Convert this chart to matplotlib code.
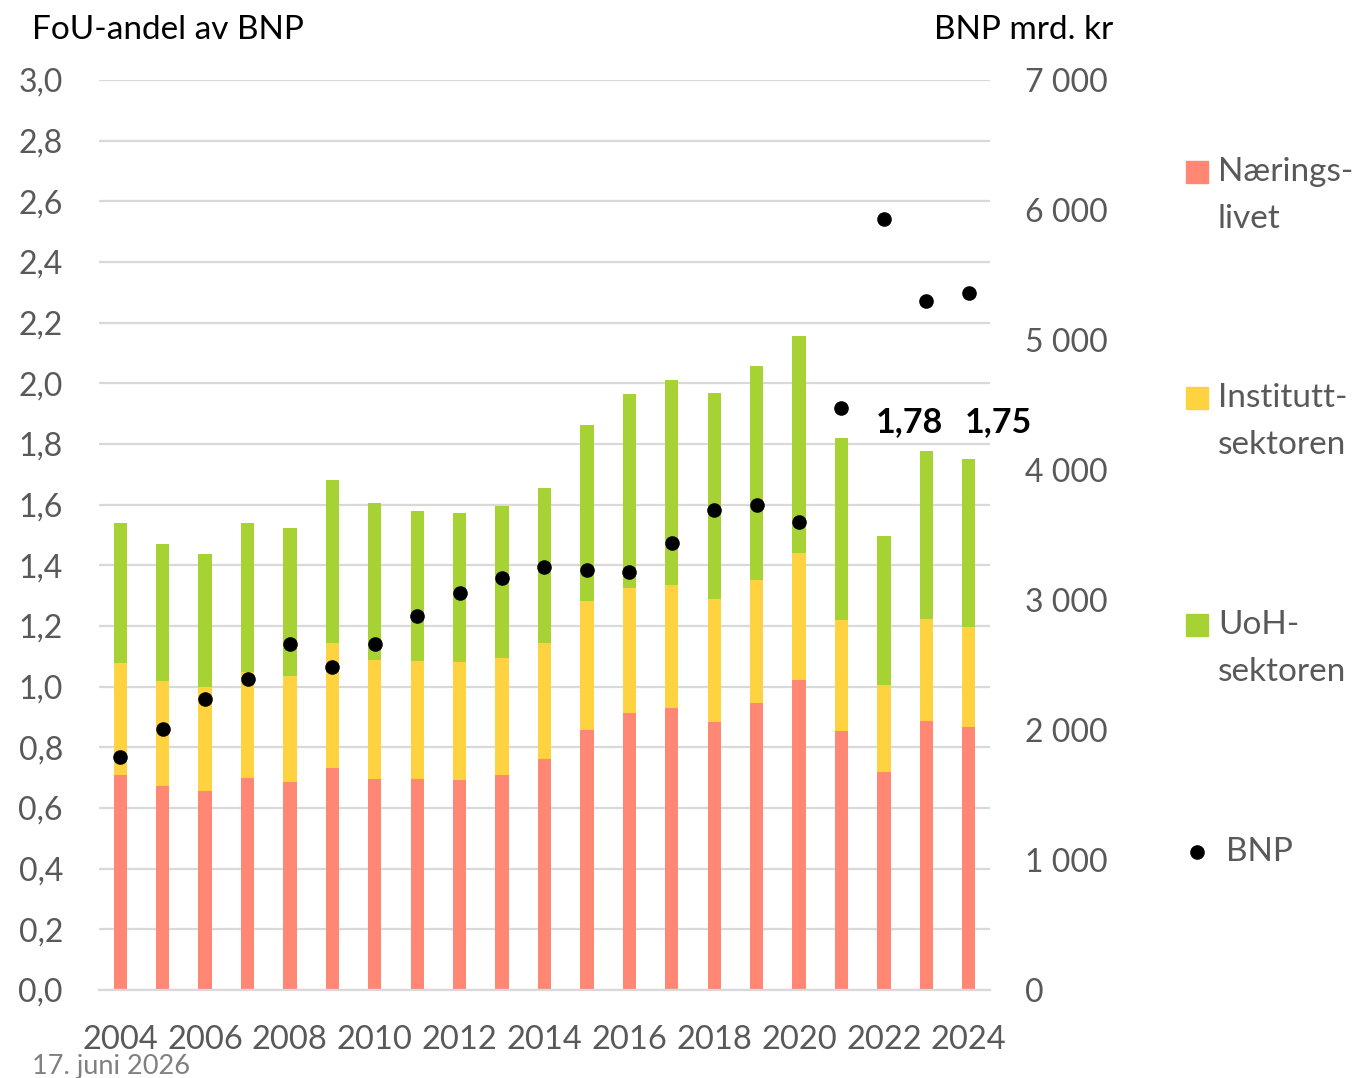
import matplotlib.pyplot as plt
from matplotlib.patches import Rectangle
from matplotlib.lines import Line2D
import numpy as np

plt.rcParams['font.family'] = ['Lato', 'DejaVu Sans']

years = list(range(2004, 2025))
# FoU-andel av BNP per sektor (prosent)
naeringslivet = [0.710, 0.674, 0.656, 0.700, 0.687, 0.733, 0.696, 0.696, 0.692, 0.709, 0.762,
                 0.858, 0.914, 0.931, 0.885, 0.947, 1.023, 0.855, 0.719, 0.887, 0.867]
instituttsektoren = [0.369, 0.345, 0.342, 0.348, 0.348, 0.411, 0.392, 0.389, 0.389, 0.386, 0.382,
                     0.425, 0.412, 0.403, 0.403, 0.406, 0.418, 0.366, 0.287, 0.336, 0.330]
uoh_sektoren = [0.460, 0.451, 0.439, 0.491, 0.487, 0.537, 0.519, 0.494, 0.492, 0.501, 0.511,
                0.579, 0.640, 0.677, 0.680, 0.704, 0.716, 0.599, 0.491, 0.554, 0.555]
# BNP mrd. kr
bnp = [1795, 2008, 2241, 2392, 2664, 2487, 2662, 2877, 3054, 3169, 3254,
       3231, 3218, 3436, 3695, 3733, 3600, 4477, 5931, 5300, 5362]

label_years = [2023, 2024]
label_texts = ['1,78', '1,75']
label_dx = [-16.5, 30]  # px sideways from the bar
label_y = 1.873

left_ticks = [0.0, 0.2, 0.4, 0.6, 0.8, 1.0, 1.2, 1.4, 1.6, 1.8, 2.0, 2.2, 2.4, 2.6, 2.8, 3.0]
right_ticks = [0, 1000, 2000, 3000, 4000, 5000, 6000, 7000]

red = '#FF8774'
yellow = '#FFD23F'
green = '#A6D234'
grid_col = '#D9D9D9'
tick_col = '#595959'

W, H = 1364, 1078
fig = plt.figure(figsize=(W / 100, H / 100), dpi=100)
ax = fig.add_axes([99 / W, 1 - 990 / H, (990 - 99) / W, (990 - 80) / H])

x = np.arange(len(years))
n = np.array(naeringslivet)
ins = np.array(instituttsektoren)
u = np.array(uoh_sektoren)
bw = 0.31
ax.bar(x, n, bw, color=red, zorder=2)
ax.bar(x, ins, bw, bottom=n, color=yellow, zorder=2)
ax.bar(x, u, bw, bottom=n + ins, color=green, zorder=2)

ax.set_xlim(-0.5, len(years) - 0.5)
ax.set_ylim(0, 3.0)
ax.set_yticks(left_ticks)
ax.set_yticklabels([f'{t:.1f}'.replace('.', ',') for t in left_ticks])
ax.set_xticks(x[::2])
ax.set_xticklabels([str(y) for y in years[::2]])
ax.yaxis.grid(True, color=grid_col, linewidth=1.6)
ax.set_axisbelow(True)
for s in ['top', 'left', 'right']:
    ax.spines[s].set_visible(False)
ax.spines['bottom'].set_color(grid_col)
ax.spines['bottom'].set_linewidth(1.6)
ax.tick_params(axis='y', length=0, pad=26, labelsize=23, labelcolor=tick_col)
ax.tick_params(axis='x', length=0, pad=25, labelsize=23.5, labelcolor=tick_col)

for yr, txt, dx in zip(label_years, label_texts, label_dx):
    i = years.index(yr)
    ax.annotate(txt, (x[i], label_y), xytext=(dx * 0.72, 0), textcoords='offset points',
                ha='center', va='center', fontsize=24.5, fontweight='bold', color='black')

ax2 = ax.twinx()
ax2.set_ylim(0, 7000)
ax2.set_yticks(right_ticks)
ax2.set_yticklabels([f'{t:,}'.replace(',', ' ') for t in right_ticks])
for s in ax2.spines.values():
    s.set_visible(False)
ax2.tick_params(axis='y', length=0, pad=25.5, labelsize=23, labelcolor=tick_col)
ax2.scatter(x, bnp, s=90, color='black', zorder=5)

fig.text(32 / W, 1 - 39 / H, 'FoU-andel av BNP', fontsize=24, color='black', va='baseline')
fig.text(1113 / W, 1 - 39 / H, 'BNP mrd. kr', fontsize=24, color='black', va='baseline', ha='right')
fig.text(32 / W, 1 - 1074 / H, '17. juni 2026', fontsize=19.5, color='#808080', va='baseline')

# legend
legend_items = [(red, ['Nærings-', 'livet'], 172), (yellow, ['Institutt-', 'sektoren'], 398),
                (green, ['UoH-', 'sektoren'], 625)]
for col, lines, yc in legend_items:
    fig.patches.append(Rectangle(((1197 - 11) / W, 1 - (yc + 11) / H), 22 / W, 22 / H,
                                 transform=fig.transFigure, color=col))
    for k, line in enumerate(lines):
        fig.text(1218 / W, 1 - (yc + 47 * k) / H, line, fontsize=24, color=tick_col, va='center')
fig.lines.append(Line2D([1197 / W], [1 - 852 / H], marker='o', markersize=9.5, color='black',
                        linestyle='none', transform=fig.transFigure))
fig.text(1226 / W, 1 - 852 / H, 'BNP', fontsize=24, color=tick_col, va='center')

fig.savefig('out.png', dpi=100)
